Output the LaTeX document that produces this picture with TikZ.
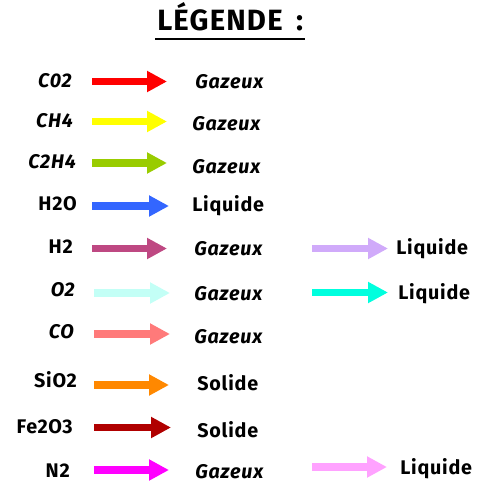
\documentclass[tikz,border=0pt]{standalone}
\usepackage{fontspec}
\setmainfont{Fira Sans}[LetterSpace=4]
\usetikzlibrary{arrows.meta}
\tikzset{
  fleche/.style={line width=5.6pt, -{Triangle[length=15pt,width=15pt]}},
  corps/.style={font=\fontsize{14.8}{16}\selectfont\bfseries, inner sep=0pt, anchor=base east},
  etat/.style={font=\fontsize{14.8}{16}\selectfont\bfseries, inner sep=0pt, anchor=base west}
}
\begin{document}
\begin{tikzpicture}[x=0.75pt, y=-0.75pt]
  \definecolor{rouge}{RGB}{255,0,0}
  \definecolor{jaune}{RGB}{255,255,0}
  \definecolor{vert}{RGB}{153,204,0}
  \definecolor{bleu}{RGB}{51,102,255}
  \definecolor{prune}{RGB}{190,72,130}
  \definecolor{glace}{RGB}{195,255,246}
  \definecolor{saumon}{RGB}{255,122,122}
  \definecolor{orange}{RGB}{255,136,0}
  \definecolor{brique}{RGB}{176,0,0}
  \definecolor{magenta}{RGB}{255,0,255}
  \definecolor{lavande}{RGB}{208,170,250}
  \definecolor{turquoise}{RGB}{0,255,222}
  \definecolor{rose}{RGB}{255,162,255}
  \useasboundingbox (0,0) rectangle (478,500);
  \node[anchor=base west, inner sep=0pt, font=\fontsize{22}{24}\selectfont\bfseries] (titre) at (157,30) {LÉGENDE\hspace{10pt}:};
  \coordinate (sl1) at (155,39);
  \coordinate (sl2) at (305,39);
  \draw[line width=1.5pt] (sl1) -- (sl2);
  % gaz, liquides, solides
  \node[corps] (co2) at (72,87) {\itshape C02};
  \coordinate (co2a) at (92,81.5);  \coordinate (co2b) at (167,81.5);
  \draw[fleche, rouge] (co2a) -- (co2b);
  \node[etat] (eco2) at (195,88) {\itshape Gazeux};
  \node[corps] (ch4) at (73,127) {\itshape CH4};
  \coordinate (ch4a) at (92,121.5); \coordinate (ch4b) at (167,121.5);
  \draw[fleche, jaune] (ch4a) -- (ch4b);
  \node[etat] (ech4) at (192,130) {\itshape Gazeux};
  \node[corps] (c2h4) at (76,168) {\itshape C2H4};
  \coordinate (c2h4a) at (92,163); \coordinate (c2h4b) at (167,163);
  \draw[fleche, vert] (c2h4a) -- (c2h4b);
  \node[etat] (ec2h4) at (192,173) {\itshape Gazeux};
  \node[corps] (h2o) at (77,210) {H2O};
  \coordinate (h2oa) at (92,206); \coordinate (h2ob) at (169,206);
  \draw[fleche, bleu] (h2oa) -- (h2ob);
  \node[etat] (eh2o) at (192,211) {Liquide};
  \node[corps] (h2) at (73,253) {H2};
  \coordinate (h2a) at (92,248.5); \coordinate (h2b) at (167,248.5);
  \draw[fleche, prune] (h2a) -- (h2b);
  \node[etat] (eh2) at (194,255) {\itshape Gazeux};
  \coordinate (h2c) at (312,248.5); \coordinate (h2d) at (388,248.5);
  \draw[fleche, lavande] (h2c) -- (h2d);
  \node[etat] (lh2) at (396,254) {Liquide};
  \node[corps] (o2) at (75,296) {\itshape O2};
  \coordinate (o2a) at (94,293); \coordinate (o2b) at (170,293);
  \draw[fleche, glace] (o2a) -- (o2b);
  \node[etat] (eo2) at (194,300) {\itshape Gazeux};
  \coordinate (o2c) at (312,292.5); \coordinate (o2d) at (388,292.5);
  \draw[fleche, turquoise] (o2c) -- (o2d);
  \node[etat] (lo2) at (398,299) {Liquide};
  \node[corps] (co) at (74,338) {\itshape CO};
  \coordinate (coa) at (94,334); \coordinate (cob) at (170,334);
  \draw[fleche, saumon] (coa) -- (cob);
  \node[etat] (eco) at (194,343) {\itshape Gazeux};
  \node[corps] (sio2) at (77,387) {SiO2};
  \coordinate (sio2a) at (94,385); \coordinate (sio2b) at (169,385);
  \draw[fleche, orange] (sio2a) -- (sio2b);
  \node[etat] (esio2) at (197,390) {Solide};
  \node[corps] (fe2o3) at (73,433) {Fe2O3};
  \coordinate (fe2o3a) at (94,427.5); \coordinate (fe2o3b) at (171,427.5);
  \draw[fleche, brique] (fe2o3a) -- (fe2o3b);
  \node[etat] (efe2o3) at (197,437) {Solide};
  \node[corps] (n2) at (70,477) {N2};
  \coordinate (n2a) at (94,470); \coordinate (n2b) at (169,470);
  \draw[fleche, magenta] (n2a) -- (n2b);
  \node[etat] (en2) at (195,478) {\itshape Gazeux};
  \coordinate (n2c) at (312,467); \coordinate (n2d) at (387,467);
  \draw[fleche, rose] (n2c) -- (n2d);
  \node[etat] (ln2) at (400,474) {Liquide};
\end{tikzpicture}
\end{document}
